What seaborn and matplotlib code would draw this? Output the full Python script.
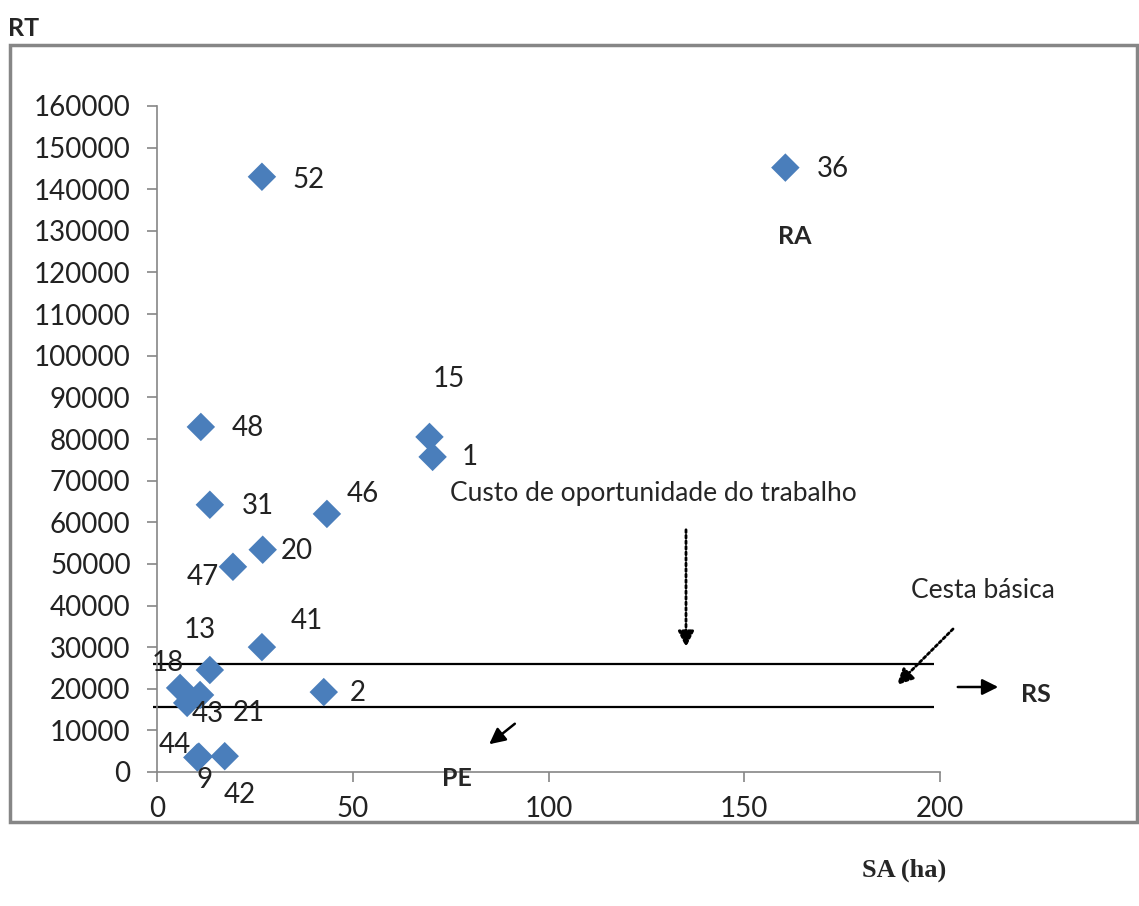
import numpy as np
import pandas as pd
import seaborn as sns
import matplotlib
import matplotlib.pyplot as plt
from matplotlib.patches import Rectangle, FancyArrowPatch

sns.set_style('white')
matplotlib.rcParams['font.family'] = ['Lato', 'DejaVu Sans']

# data: area SA (ha), total income RT, producer id
sa = [26.8, 160.5, 69.6, 70.4, 11.2, 13.5, 43.4, 27.0, 19.4, 26.8, 13.5, 5.9, 7.7, 11.0, 42.6, 10.3, 10.7, 17.3]
rt = [143000, 145200, 80500, 75700, 82900, 64200, 62000, 53400, 49300, 30000, 24500, 20200, 16600, 18500, 19200, 3500, 3700, 3800]
ids = ['52', '36', '15', '1', '48', '31', '46', '20', '47', '41', '13', '18', '43', '21', '2', '44', '9', '42']

# reference levels
custo_oportunidade = 26000
cesta_basica = 15600

# label offsets in points (dx, dy, ha)
offsets = {
    '52': (22, -2, 'left'), '36': (23, -1, 'left'), '15': (14, 42, 'center'),
    '1': (21, 0, 'left'), '48': (22, -1, 'left'), '31': (23, -1, 'left'),
    '46': (14, 14, 'left'), '20': (13, -1, 'left'), '47': (-10, -7, 'right'),
    '41': (21, 19, 'left'), '13': (-7, 29, 'center'), '18': (-9, 18, 'center'),
    '43': (15, -8, 'center'), '21': (35, -13, 'center'), '2': (19, -1, 'left'),
    '44': (-16, 9, 'center'), '9': (4, -17, 'center'), '42': (11, -28, 'center'),
}

ds = pd.DataFrame({'SA': sa, 'RT': rt, 'id': ids})

W, H = 1139, 906
fig = plt.figure(figsize=(W / 100, H / 100), dpi=100)
ax = fig.add_axes([157 / W, 1 - 772 / H, (940 - 157) / W, (772 - 106) / H])


def fx(px):
    return px / W


def fy(py):
    return 1 - py / H


sns.scatterplot(data=ds, x='SA', y='RT', marker='D', s=210, color='#4a7ebb',
                edgecolor='none', ax=ax, zorder=3, clip_on=False)

for _, r in ds.iterrows():
    dx, dy, ha = offsets[r['id']]
    ax.annotate(r['id'], (r['SA'], r['RT']), xytext=(dx, dy), textcoords='offset points',
                ha=ha, va='center', fontsize=20, color='#222222', zorder=4)

ax.set_xlim(0, 200)
ax.set_ylim(0, 160000)
ax.set_xticks(np.arange(0, 201, 50))
ax.set_yticks(np.arange(0, 160001, 10000))
ax.set_xlabel('')
ax.set_ylabel('')
ax.tick_params(axis='both', labelsize=20, colors='#868686', labelcolor='#222222',
               length=7, width=1.2, direction='out', left=True, bottom=True)
ax.tick_params(axis='x', pad=10)
ax.tick_params(axis='y', pad=12)
for s in ['top', 'right']:
    ax.spines[s].set_visible(False)
for s in ['left', 'bottom']:
    ax.spines[s].set_color('#868686')
    ax.spines[s].set_linewidth(1.2)

# reference lines
ax.hlines([custo_oportunidade, cesta_basica], -1, 198.5, colors='black', linewidth=1.6,
          zorder=2, clip_on=False)

# outer frame
fig.add_artist(Rectangle((fx(10), fy(822)), fx(1137) - fx(10), fy(45) - fy(822),
                         transform=fig.transFigure, fill=False, edgecolor='#868686',
                         linewidth=2.5))

# annotations
fig.text(fx(8), fy(28), 'RT', fontsize=18, fontweight='bold', va='center', ha='left')
fig.text(fx(862), fy(870), 'SA (ha)', fontsize=19, fontweight='bold', va='center', ha='left',
         family='Liberation Serif')
fig.text(fx(778), fy(236), 'RA', fontsize=18, fontweight='bold', va='center', ha='left')
fig.text(fx(442), fy(778), 'PE', fontsize=18, fontweight='bold', va='center', ha='left')
fig.text(fx(1021), fy(694), 'RS', fontsize=18, fontweight='bold', va='center', ha='left')
fig.text(fx(450), fy(494), 'Custo de oportunidade do trabalho', fontsize=19, va='center',
         ha='left', bbox=dict(facecolor='white', edgecolor='none', pad=2), zorder=5)
fig.text(fx(911), fy(590), 'Cesta básica', fontsize=19, va='center', ha='left')

arrow_dotted = dict(arrowstyle='-|>', linestyle=(0, (1, 1)), linewidth=2, color='black',
                    mutation_scale=24)
arrow_solid = dict(arrowstyle='-|>', linewidth=1.8, color='black', mutation_scale=24)
fig.add_artist(FancyArrowPatch((fx(686), fy(527)), (fx(686), fy(650)),
                               transform=fig.transFigure, **arrow_dotted))
fig.add_artist(FancyArrowPatch((fx(955), fy(627)), (fx(895), fy(687)),
                               transform=fig.transFigure, **arrow_dotted))
fig.add_artist(FancyArrowPatch((fx(955), fy(687)), (fx(1001), fy(687)),
                               transform=fig.transFigure, **arrow_solid))
fig.add_artist(FancyArrowPatch((fx(517), fy(722)), (fx(487), fy(746)),
                               transform=fig.transFigure, **arrow_solid))

fig.savefig('out.png', dpi=100)
